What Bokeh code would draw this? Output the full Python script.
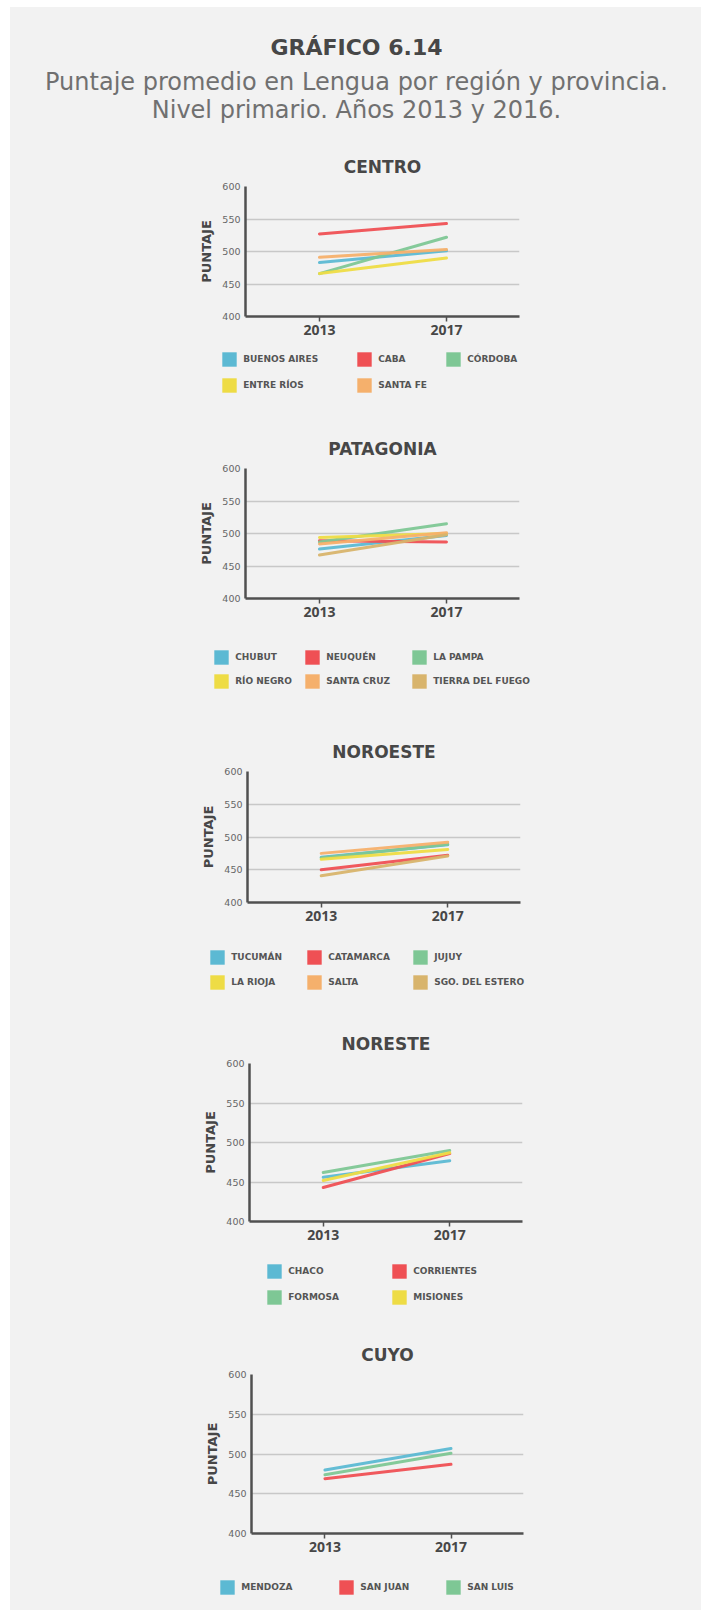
from bokeh.plotting import figure
from bokeh.models import Range1d, FixedTicker, Legend, LegendItem, Label
from bokeh.embed import file_html
from bokeh.resources import INLINE

# ---------------- DATA ----------------
years = [2013, 2017]
y_ticks = [400, 450, 500, 550, 600]

centro_prov = ["BUENOS AIRES", "CABA", "CÓRDOBA", "ENTRE RÍOS", "SANTA FE"]
centro_2013 = [483, 527, 466, 466, 491]
centro_2017 = [501, 543, 522, 490, 503]

patagonia_prov = ["CHUBUT", "NEUQUÉN", "LA PAMPA", "RÍO NEGRO", "SANTA CRUZ", "TIERRA DEL FUEGO"]
patagonia_2013 = [476, 489, 487, 494, 484, 467]
patagonia_2017 = [497, 487, 515, 500, 501, 498]

noroeste_prov = ["TUCUMÁN", "CATAMARCA", "JUJUY", "LA RIOJA", "SALTA", "SGO. DEL ESTERO"]
noroeste_2013 = [469, 450, 468, 466, 475, 441]
noroeste_2017 = [488, 472, 489, 481, 492, 471]

noreste_prov = ["CHACO", "CORRIENTES", "FORMOSA", "MISIONES"]
noreste_2013 = [456, 443, 462, 452]
noreste_2017 = [477, 486, 490, 487]

cuyo_prov = ["MENDOZA", "SAN JUAN", "SAN LUIS"]
cuyo_2013 = [480, 469, 474]
cuyo_2017 = [507, 487, 501]

# ---------------- STYLE / LAYOUT ----------------
BG = "#f2f2f2"
COLORS = ["#5cb9d3", "#ef5054", "#7ec795", "#eedc45", "#f5b06c", "#d8b46c"]
DARK = "#474747"
AXIS = "#505050"
GRID = "#c8c8c8"
X0 = 10          # left edge of the grey panel (page px)
X1 = 701         # right edge of the grey panel
FIG_W = X1 - X0
SIDE = {"margin-left": f"{X0}px", "background-color": BG}

charts = [
    dict(name="CENTRO", prov=centro_prov, v13=centro_2013, v17=centro_2017,
         top=140, frame=(245, 519, 186, 316), toff=0,
         leg=(348, 410), cols=[222, 357, 446], rows=[359, 385]),
    dict(name="PATAGONIA", prov=patagonia_prov, v13=patagonia_2013, v17=patagonia_2017,
         top=410, frame=(245, 519, 468, 598), toff=-10,
         leg=(630, 700), cols=[214, 305, 412], rows=[657, 681]),
    dict(name="NOROESTE", prov=noroeste_prov, v13=noroeste_2013, v17=noroeste_2017,
         top=700, frame=(247, 520, 771, 902), toff=-11,
         leg=(934, 1000), cols=[210, 307, 413], rows=[957, 982]),
    dict(name="NORESTE", prov=noreste_prov, v13=noreste_2013, v17=noreste_2017,
         top=1000, frame=(249, 522, 1063, 1221), toff=-13,
         leg=(1253, 1315), cols=[267, 392], rows=[1271, 1297]),
    dict(name="CUYO", prov=cuyo_prov, v13=cuyo_2013, v17=cuyo_2017,
         top=1315, frame=(251, 523, 1374, 1533), toff=-15,
         leg=(1565, 1610), cols=[220, 339, 446], rows=[1587]),
]

GLYPH = 18


def blank_fig(height, styles=SIDE, **kw):
    f = figure(width=FIG_W, height=height, output_backend="svg", toolbar_location=None,
               min_border=0, x_axis_location=None, y_axis_location=None,
               background_fill_color=BG, border_fill_color=BG, outline_line_color=None,
               styles=styles, **kw)
    f.grid.visible = False
    return f


# ---------------- HEADER ----------------
HEAD_TOP = 7
HEAD_H = 140 - HEAD_TOP
header = blank_fig(HEAD_H, x_range=Range1d(0, FIG_W), y_range=Range1d(HEAD_H, 0),
                   styles=dict(SIDE, **{"margin-top": f"{HEAD_TOP}px"}))
CX = 356 - X0
header.add_layout(Label(x=CX, y=47 - HEAD_TOP, text="GRÁFICO 6.14", text_align="center",
                        text_baseline="middle", text_font="DejaVu Sans", text_font_style="bold",
                        text_font_size="22px", text_color=DARK))
header.add_layout(Label(x=CX, y=81 - HEAD_TOP, text="Puntaje promedio en Lengua por región y provincia.",
                        text_align="center", text_baseline="middle",
                        text_font="DejaVu Sans", text_font_size="24px", text_color="#707070"))
header.add_layout(Label(x=CX, y=109 - HEAD_TOP, text="Nivel primario. Años 2013 y 2016.",
                        text_align="center", text_baseline="middle",
                        text_font="DejaVu Sans", text_font_size="24px", text_color="#707070"))

roots = [header]

for ch in charts:
    L, R, T, B = ch["frame"]
    ft = ch["top"]
    fb = ch["leg"][0]
    p = figure(width=FIG_W, height=fb - ft,
               x_range=Range1d(2010.67, 2019.3), y_range=Range1d(400, 600),
               output_backend="svg", toolbar_location=None, styles=SIDE,
               min_border_left=L - X0, min_border_right=X1 - R,
               min_border_top=T - ft, min_border_bottom=fb - B,
               background_fill_color=BG, border_fill_color=BG, outline_line_color=None)
    p.title.text = ch["name"]
    p.title.align = "center"
    p.title.offset = ch["toff"]
    p.title.standoff = 20
    p.title.text_font = "DejaVu Sans"
    p.title.text_font_style = "bold"
    p.title.text_font_size = "17px"
    p.title.text_color = DARK

    p.xaxis.ticker = FixedTicker(ticks=years)
    p.yaxis.ticker = FixedTicker(ticks=y_ticks)
    p.xgrid.visible = False
    p.ygrid.grid_line_color = GRID
    p.ygrid.grid_line_width = 1.5
    for ax in (p.xaxis, p.yaxis):
        ax.axis_line_color = AXIS
        ax.axis_line_width = 2.5
        ax.minor_tick_line_color = None
    p.yaxis.major_tick_line_color = None
    p.yaxis.major_tick_out = 0
    p.yaxis.major_tick_in = 0
    p.yaxis.major_label_standoff = 5
    p.yaxis.major_label_text_font = "DejaVu Sans"
    p.yaxis.major_label_text_font_size = "9.5px"
    p.yaxis.major_label_text_color = "#666666"
    p.yaxis.axis_label = "PUNTAJE"
    p.yaxis.axis_label_standoff = 5
    p.yaxis.axis_label_text_font = "DejaVu Sans"
    p.yaxis.axis_label_text_font_style = "bold"
    p.yaxis.axis_label_text_font_size = "13px"
    p.yaxis.axis_label_text_color = DARK

    p.xaxis.major_tick_line_color = AXIS
    p.xaxis.major_tick_line_width = 1.5
    p.xaxis.major_tick_out = 5
    p.xaxis.major_tick_in = 0
    p.xaxis.major_label_standoff = 3
    p.xaxis.major_label_text_font = "Open Sans"
    p.xaxis.major_label_text_font_style = "bold"
    p.xaxis.major_label_text_font_size = "14px"
    p.xaxis.major_label_text_color = DARK

    for i, (a, b) in enumerate(zip(ch["v13"], ch["v17"])):
        p.line(years, [a, b], line_color=COLORS[i], line_width=3, line_alpha=0.95, line_cap="round")
    roots.append(p)

    # legend block (own figure, so that it is not clipped)
    lt, lb = ch["leg"]
    lf = blank_fig(lb - lt)
    items = []
    for i, (name, a, b) in enumerate(zip(ch["prov"], ch["v13"], ch["v17"])):
        sw = lf.rect(years, [a, b], width=0, height=0, fill_color=COLORS[i], line_color=None)
        items.append(LegendItem(label=name, renderers=[sw]))
    ncols = len(ch["cols"])
    nrows = len(ch["rows"])
    row_pitch = (ch["rows"][1] - ch["rows"][0]) if nrows > 1 else 26
    spacing = row_pitch - GLYPH
    for j, col_x in enumerate(ch["cols"]):
        col_items = items[j::ncols]
        n = len(col_items)
        h = n * GLYPH + (n - 1) * spacing
        top = ch["rows"][0] - GLYPH / 2
        vx = (col_x - 0.1 * GLYPH) - X0
        vy = lb - (top + h)
        lg = Legend(items=col_items, location=(vx, vy), orientation="vertical",
                    glyph_width=GLYPH, glyph_height=GLYPH, label_height=GLYPH,
                    spacing=spacing, padding=0, margin=0, label_standoff=5,
                    label_text_font="DejaVu Sans", label_text_font_style="bold",
                    label_text_font_size="9px", label_text_color="#555555",
                    label_text_baseline="middle",
                    background_fill_alpha=0, border_line_alpha=0)
        lf.add_layout(lg)
    roots.append(lf)

open("out.html", "w").write(file_html(roots, INLINE))
